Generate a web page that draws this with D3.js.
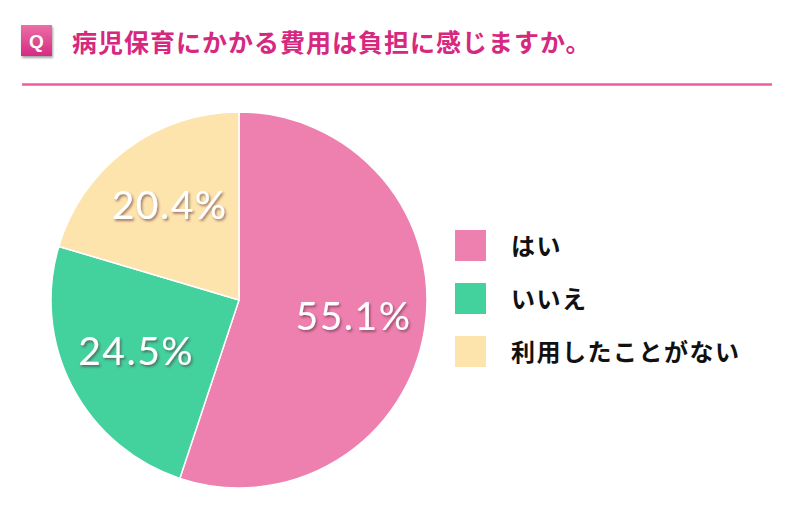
<!DOCTYPE html>
<html>
<head>
<meta charset="utf-8">
<script src="https://cdn.jsdelivr.net/npm/d3@7"></script>
<style>
  body { margin: 0; background: #fff; }
  svg { display: block; }
</style>
</head>
<body>
<div class="canvas"></div>
<script>
// ---- data ----
const titleText = "病児保育にかかる費用は負担に感じますか。";
const categories = ["はい", "いいえ", "利用したことがない"];
const values = [55.1, 24.5, 20.4];
const colors = ["#EE80B0", "#43D19E", "#FDE3AC"];

const svgWidth = 800;
const svgHeight = 509;

const svg = d3.select('.canvas')
  .append('svg')
    .attr('width', svgWidth)
    .attr('height', svgHeight);

const defs = svg.append('defs');

// gradient for the Q box
const grad = defs.append('linearGradient')
  .attr('id', 'qgrad')
  .attr('x1', 0).attr('y1', 0).attr('x2', 0).attr('y2', 1);
grad.append('stop').attr('offset', '0%').attr('stop-color', '#EC6FA6');
grad.append('stop').attr('offset', '100%').attr('stop-color', '#D42B84');

const boxShadow = defs.append('filter').attr('id', 'boxShadow')
  .attr('x', '-20%').attr('y', '-20%').attr('width', '150%').attr('height', '150%');
boxShadow.append('feDropShadow')
  .attr('dx', 1).attr('dy', 2).attr('stdDeviation', 1.2)
  .attr('flood-color', '#000').attr('flood-opacity', 0.35);

const txtShadow = defs.append('filter').attr('id', 'txtShadow')
  .attr('x', '-20%').attr('y', '-30%').attr('width', '140%').attr('height', '160%');
txtShadow.append('feDropShadow')
  .attr('dx', 1.5).attr('dy', 2).attr('stdDeviation', 1.3)
  .attr('flood-color', '#5a2a3a').attr('flood-opacity', 0.55);

// ---- header ----
const header = svg.append('g');

header.append('rect')
  .attr('x', 21).attr('y', 25)
  .attr('width', 31).attr('height', 31)
  .attr('fill', 'url(#qgrad)')
  .attr('filter', 'url(#boxShadow)');

header.append('text')
  .attr('x', 36.5).attr('y', 47.5)
  .attr('text-anchor', 'middle')
  .attr('fill', '#fff')
  .style('font-family', '"Liberation Sans", Arial, sans-serif')
  .style('font-weight', 'bold')
  .style('font-size', '19px')
  .text('Q');

header.append('text')
  .attr('x', 72).attr('y', 52)
  .attr('fill', '#D6287F')
  .style('font-family', '"Noto Sans CJK JP", sans-serif')
  .style('font-weight', 'bold')
  .style('font-size', '25px')
  .style('letter-spacing', '1px')
  .text(titleText);

header.append('line')
  .attr('x1', 22).attr('x2', 772)
  .attr('y1', 84.5).attr('y2', 84.5)
  .attr('stroke', '#EF5E9C')
  .attr('stroke-width', 2.5);

// ---- pie ----
const cx = 239, cy = 300, radius = 188;

const pie = d3.pie().sort(null).value(d => d);
const arcs = pie(values);

const arc = d3.arc().innerRadius(0).outerRadius(radius);
const labelArc = d3.arc().innerRadius(116).outerRadius(116);

const graph = svg.append('g')
  .attr('transform', `translate(${cx},${cy})`);

graph.selectAll('path')
  .data(arcs)
  .enter()
  .append('path')
    .attr('d', arc)
    .attr('fill', (d, i) => colors[i])
    .attr('stroke', '#fff')
    .attr('stroke-width', 1.5);

graph.selectAll('text.pct')
  .data(arcs)
  .enter()
  .append('text')
    .attr('class', 'pct')
    .attr('transform', d => `translate(${labelArc.centroid(d)})`)
    .attr('text-anchor', 'middle')
    .attr('dy', '0.3em')
    .attr('fill', '#fff')
    .attr('filter', 'url(#txtShadow)')
    .style('font-family', 'Lato, "Open Sans", sans-serif')
    .style('font-size', '39px')
    .style('letter-spacing', '1.5px')
    .text(d => d.data.toFixed(1) + '%');

// ---- legend ----
const legend = svg.append('g')
  .attr('transform', 'translate(455,230)');

const items = legend.selectAll('g')
  .data(categories)
  .enter()
  .append('g')
    .attr('transform', (d, i) => `translate(0,${i * 53})`);

items.append('rect')
  .attr('width', 31).attr('height', 31)
  .attr('fill', (d, i) => colors[i]);

items.append('text')
  .attr('x', 56).attr('y', 16)
  .attr('dy', '0.36em')
  .attr('fill', '#111')
  .style('font-family', '"Noto Sans CJK JP", sans-serif')
  .style('font-weight', 'bold')
  .style('font-size', '24px')
  .style('letter-spacing', '1.5px')
  .text(d => d);
</script>
</body>
</html>
